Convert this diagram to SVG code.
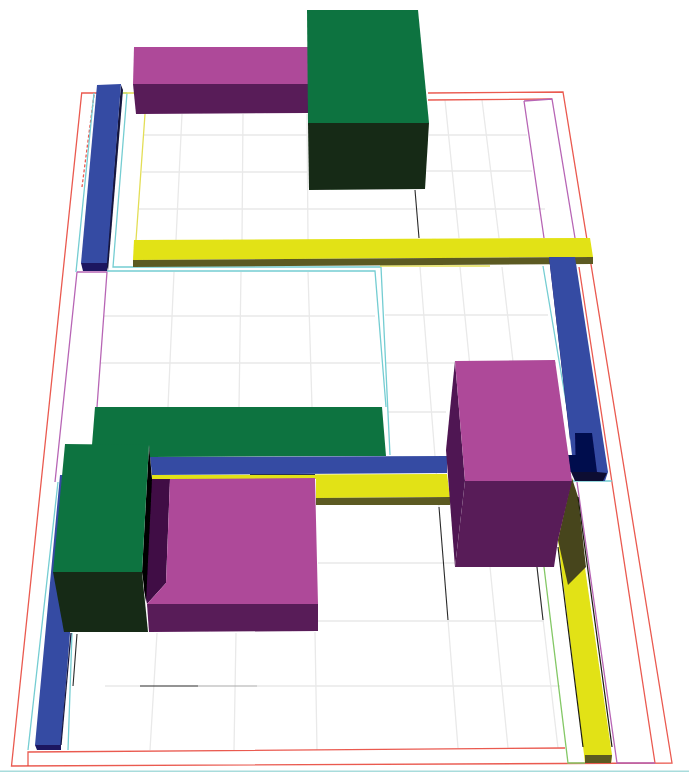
<svg xmlns="http://www.w3.org/2000/svg" width="689" height="773" viewBox="0 0 689 773">
<style>
.g{fill:none;stroke:#e9e9e9;stroke-width:1.3}
.k{fill:none;stroke:#2a2a2a;stroke-width:1.1}
.r{fill:none;stroke:#ea5a50;stroke-width:1.3}
.m{fill:none;stroke:#b765b5;stroke-width:1.3}
.c{fill:none;stroke:#74cdd2;stroke-width:1.3}
.pt{fill:#ae4a99}.pf{fill:#581a58}.ps{fill:#3f0a45}
.gt{fill:#0e7340}.gf{fill:#152b15}
.bt{fill:#354ba3}.bf{fill:#1a1460}
.yt{fill:#e2e212}.yf{fill:#5c5a24}
</style>
<defs><filter id="soft" x="0" y="0" width="100%" height="100%"><feGaussianBlur stdDeviation="0.4"/></filter></defs>
<rect width="689" height="773" fill="#fff"/>
<g filter="url(#soft)">
<g id="grid">
<path class="g" d="M182 114L176 240M243 114L242 240M307 114L308 240M445 100L459 238M482 100L499 238M143 135H307M429 135H527M142 172H307M426 171H532M139 209H545M174 272L168 407M241 272L239 407M308 272L312 407M420 267L439 507M460 267L490 567M502 267L558 748M157 633L150 750M236 633L234 750M315 632L317 750M448 620L458 748M490 567L508 748M104 316H375M385 315H548M100 363H380M385 363H556M388 412H446M318 563H455M318 621H544M105 686H140M257 686H560"/>
</g>
<g id="outlines">
<path class="r" d="M428 93L563 92L672 763L11.5 766L81.7 93H97M428 100L552 99M579 267L655 763M28 766V752L565 748"/>
<path class="r" d="M94 95L82 187" stroke-dasharray="3 2"/>
<path class="m" d="M524 101L552 99L575 238M524 101L544 238M577 482L617 763H655M77 272H107L97 407M77 272L55 482"/>
<path class="c" d="M127 93L113 267H381L390 455M121 93H127M94 93L76 272M107 271H375L386 407M543 266L575 455M58 482L28 750M72 633L68 750M560 458H575M572 481H612"/>
<path d="M123 93H134M145 114L136 240M380 266H490" fill="none" stroke="#e3de55" stroke-width="1.3"/>
<path d="M544 567L568 763H585" fill="none" stroke="#84c866" stroke-width="1.3"/>
<path d="M0 771.5H689" fill="none" stroke="#a8dcdc" stroke-width="2"/>
<path class="k" d="M415 190L419 238M439 507L448 620M537 567L543 620M140 686H198M77 634L73 686"/>
<path d="M198 686H257" fill="none" stroke="#aaa" stroke-width="1.1"/>
</g>
<g id="top-bar-magenta"><polygon class="pt" points="134,47 308,47 308,84 133,84"/><polygon class="pf" points="133,84 308,84 308,113 136,114"/></g>
<g id="top-block-green"><polygon class="gt" points="307,10 418,10 429,123 308,123"/><polygon class="gf" points="308,123 429,123 425,189 309,190"/></g>
<g id="left-bar-blue"><polygon points="121,85 123,90 108,271 106,263" fill="#14143c"/><polygon class="bt" points="97,85 121,84 107,263 81,263"/><polygon class="bf" points="81,263 107,263 107,271 83,271"/></g>
<g id="top-bar-yellow"><polygon class="yt" points="134,240 590,238 593,257 133,260"/><polygon class="yf" points="133,260 593,257 593,264 133,267"/></g>
<g id="right-bar-blue"><polygon points="549,257 552,262 575,420 570,440" fill="#2a1a66"/><polygon class="bt" points="549,257 575,257 608,472 605,481 575,481"/><polygon points="575,433 592,433 597,472 570,472 568,455 575.5,455" fill="#060a4e"/><polygon points="571,472 597,472 607,473 603,481 575,481" fill="#0d0d30"/></g>
<g id="right-bar-yellow"><polygon points="558,540 572,478 612,755 611,763 585,763" class="yt"/><polygon points="572,478 578,497 586,567 568,585 558,540" fill="#47441a"/><polygon class="yf" points="585,755 612,755 611,763 585,763"/><path d="M558 547L583 747M578 497L612 747" fill="none" stroke="#1c1c10" stroke-width="1.2"/></g>
<g id="bottom-bar-blue"><polygon class="bt" points="60,475 85,475 70,633 61,745 35,745"/><polygon class="bf" points="35,745 61,745 61,750 37,750"/><path d="M71 633L61 745" fill="none" stroke="#14143c" stroke-width="1.2"/></g>
<g id="l-block-green-back"><polygon class="gt" points="95,407 382,407 386,456 150,457 149,445 92,445"/></g>
<g id="mid-bar-yellow"><polygon class="yt" points="152,475 447,474 450,497 316,498 316,479 152,479"/><polygon class="yf" points="316,498 450,497 450,505 316,505"/></g>
<g id="mid-bar-blue"><polygon class="bt" points="150,457 447,456 447,473 152,475"/><path d="M250 474.5H315" stroke="#2a3050" stroke-width="1.2" fill="none"/></g>
<g id="square-magenta"><polygon class="ps" points="150,479 170,479 166,583 147,604 144,590"/><polygon class="pt" points="170,479 315,478 318,604 147,604 166,583"/><polygon class="pf" points="147,604 318,604 318,631 149,632"/></g>
<g id="front-block-green"><polygon points="149,445 152,479 146,602 142,572" fill="#000"/><polygon class="gt" points="65,444 149,445 142,572 53,572"/><polygon class="gf" points="53,572 142,572 148,632 64,632"/></g>
<g id="right-block-magenta"><polygon points="455,361 451,400 446,450 455,567 465,481" fill="#4f1652"/><polygon class="pt" points="455,361 555,360 572,481 465,481"/><polygon class="pf" points="465,481 572,481 558,540 554,567 455,567"/></g>
</g>
</svg>
